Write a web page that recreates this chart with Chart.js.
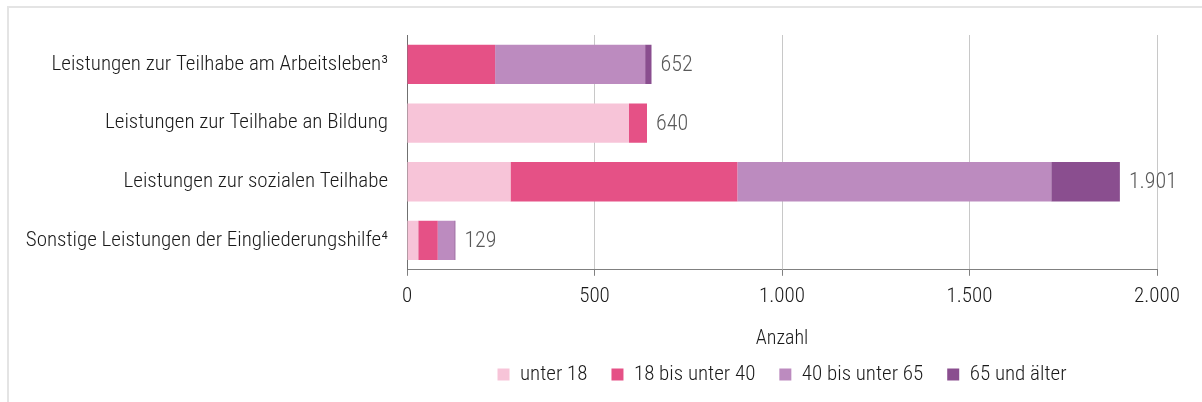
<!DOCTYPE html>
<html>
<head>
<meta charset="utf-8">
<script src="https://cdn.jsdelivr.net/npm/chart.js@4"></script>
<style>
  html, body { margin: 0; padding: 0; background: #fff; }
  #wrap { width: 1202px; height: 402px; position: relative; }
</style>
</head>
<body>
<div id="wrap"><canvas id="chart"></canvas></div>
<script>
// ── Data ──
const categories = [
    'Leistungen zur Teilhabe am Arbeitsleben³',
    'Leistungen zur Teilhabe an Bildung',
    'Leistungen zur sozialen Teilhabe',
    'Sonstige Leistungen der Eingliederungshilfe⁴'
];
const seriesNames = ['unter 18', '18 bis unter 40', '40 bis unter 65', '65 und älter'];
const under18 = [0, 592, 276, 30];
const age18to40 = [235, 48, 605, 52];
const age40to65 = [400, 0, 837, 44];
const age65plus = [17, 0, 183, 3];
const totals = [652, 640, 1901, 129];
const xTicks = [0, 500, 1000, 1500, 2000];

const COLORS = ['#F7C4D8', '#E55186', '#BC8BBF', '#8A4E8F'];
const FONT = "'Roboto Condensed', 'Liberation Sans', sans-serif";

function fmtDE(n) {
    return String(n).replace(/\B(?=(\d{3})+(?!\d))/g, '.');
}

// ── Frame (light grey top/left rule) ──
const framePlugin = {
    id: 'frame',
    beforeDraw(chart) {
        const c = chart.ctx;
        c.save();
        c.strokeStyle = '#e4e4e4';
        c.lineWidth = 2;
        c.beginPath();
        c.moveTo(8, 402); c.lineTo(8, 7); c.lineTo(1202, 7);
        c.stroke();
        c.restore();
    }
};

// ── Totals right of each bar ──
const totalsPlugin = {
    id: 'totals',
    afterDatasetsDraw(chart) {
        const c = chart.ctx;
        const last = chart.getDatasetMeta(chart.data.datasets.length - 1);
        c.save();
        c.font = '300 22px ' + FONT;
        c.fillStyle = '#595959';
        c.textAlign = 'left';
        c.textBaseline = 'middle';
        last.data.forEach((bar, i) => {
            c.fillText(fmtDE(totals[i]), bar.x + 9, bar.y + 1);
        });
        c.restore();
    }
};

const datasets = [under18, age18to40, age40to65, age65plus].map((vals, i) => ({
    label: seriesNames[i],
    data: vals,
    backgroundColor: COLORS[i],
    borderWidth: 0,
    barPercentage: 0.67,
    categoryPercentage: 1
}));

new Chart(document.getElementById('chart'), {
    type: 'bar',
    data: { labels: categories, datasets },
    plugins: [framePlugin, totalsPlugin],
    options: {
        indexAxis: 'y',
        responsive: true,
        maintainAspectRatio: false,
        animation: false,
        layout: { padding: { top: 35, right: 45, left: 0, bottom: 7 } },
        plugins: {
            tooltip: { enabled: false },
            legend: {
                position: 'bottom',
                fullSize: false,
                labels: {
                    boxWidth: 12, boxHeight: 12, padding: 24,
                    color: '#1a1a1a',
                    font: { family: FONT, size: 21, weight: '300' }
                }
            }
        },
        scales: {
            x: {
                stacked: true,
                min: 0, max: 2000,
                afterBuildTicks: s => { s.ticks = xTicks.map(v => ({ value: v })); },
                grid: { color: '#c8c8c8', tickColor: '#808080', tickLength: 6 },
                border: { color: '#808080' },
                ticks: {
                    padding: 8, color: '#1a1a1a',
                    font: { family: FONT, size: 21, weight: '300' },
                    callback: v => fmtDE(v)
                },
                title: {
                    display: true, text: 'Anzahl', color: '#1a1a1a',
                    font: { family: FONT, size: 20, weight: '300' },
                    padding: { top: 10, bottom: -11 }
                }
            },
            y: {
                stacked: true,
                afterFit: s => { s.width = 407; },
                grid: { display: false, drawTicks: false },
                border: { color: '#707070' },
                ticks: {
                    padding: 19, color: '#1a1a1a',
                    font: { family: FONT, size: 21, weight: '300' }
                }
            }
        }
    }
});
</script>
</body>
</html>
